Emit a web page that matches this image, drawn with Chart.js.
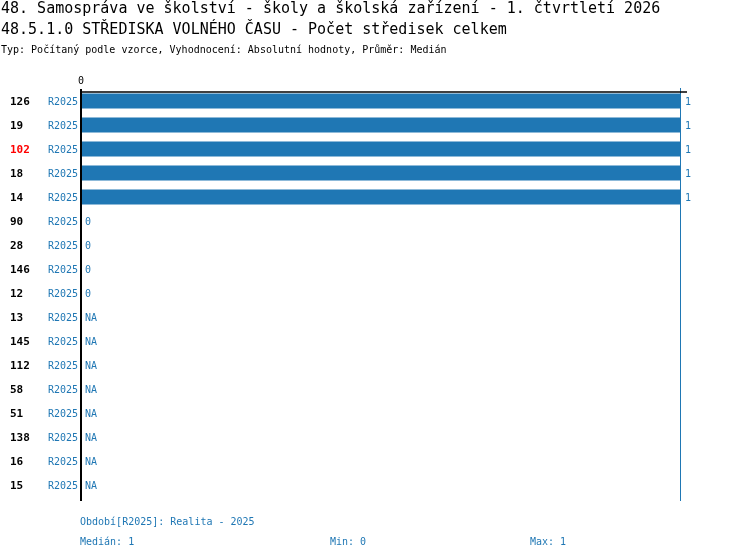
<!DOCTYPE html>
<html><head><meta charset="utf-8">
<script src="https://cdn.jsdelivr.net/npm/chart.js@4"></script>
<style>html,body{margin:0;padding:0;background:#fff;}#wrap{width:750px;height:560px;position:relative;}</style>
</head><body><div id="wrap"><canvas id="c" width="750" height="560"></canvas></div>
<script>
const titleLines = [
  "48. Samospráva ve školství - školy a školská zařízení - 1. čtvrtletí 2026",
  "48.5.1.0 STŘEDISKA VOLNÉHO ČASU - Počet středisek celkem"
];
const subtitle = "Typ: Počítaný podle vzorce, Vyhodnocení: Absolutní hodnoty, Průměr: Medián";
const categories = ["126","19","102","18","14","90","28","146","12","13","145","112","58","51","138","16","15"];
const highlighted = ["102"];
const periodLabel = "R2025";
const values = [1,1,1,1,1,0,0,0,0,null,null,null,null,null,null,null,null];
const xTicks = [0];
const footerPeriod = "Období[R2025]: Realita - 2025";
const footerStats = ["Medián: 1","Min: 0","Max: 1"];

const BLUE = "rgb(31,119,180)";
const MONO = "'DejaVu Sans Mono', 'Liberation Mono', monospace";

const overlay = {
  id: 'overlay',
  afterDraw(chart) {
    const ctx = chart.ctx;
    const x = chart.scales.x, y = chart.scales.y;
    const area = chart.chartArea;
    ctx.save();
    ctx.fillStyle = '#000';
    ctx.textBaseline = 'middle';
    ctx.textAlign = 'left';
    ctx.font = "15px " + MONO;
    ctx.fillText(titleLines[0], 1, 9);
    ctx.fillText(titleLines[1], 1, 30);
    ctx.font = "10px " + MONO;
    ctx.fillText(subtitle, 1, 50);
    ctx.font = "10px " + MONO;
    ctx.textAlign = 'center';
    xTicks.forEach(t => ctx.fillText(String(t), x.getPixelForValue(t), 81));
    ctx.strokeStyle = BLUE;
    ctx.lineWidth = 1;
    const xr = Math.round(x.getPixelForValue(1)) - 0.5;
    ctx.beginPath(); ctx.moveTo(xr, area.top - 1); ctx.lineTo(xr, area.bottom + 4); ctx.stroke();
    ctx.strokeStyle = '#000';
    ctx.lineWidth = 1.5;
    ctx.beginPath(); ctx.moveTo(area.left - 1, area.top + 3); ctx.lineTo(x.getPixelForValue(1) + 6, area.top + 3); ctx.stroke();
    ctx.lineWidth = 2;
    const x0 = x.getPixelForValue(0);
    ctx.beginPath(); ctx.moveTo(x0, area.top); ctx.lineTo(x0, area.bottom + 4); ctx.stroke();
    categories.forEach((c, i) => {
      const py = y.getPixelForValue(i) + 1;
      ctx.textAlign = 'left';
      ctx.font = "bold 11px " + MONO;
      ctx.fillStyle = highlighted.includes(c) ? 'rgb(255,0,0)' : '#000';
      ctx.fillText(c, 10, py);
      ctx.font = "10px " + MONO;
      ctx.fillStyle = BLUE;
      ctx.textAlign = 'right';
      ctx.fillText(periodLabel, 78, py);
      const v = values[i];
      ctx.textAlign = 'left';
      const txt = v === null ? 'NA' : String(v);
      const px = v === null ? x.getPixelForValue(0) : x.getPixelForValue(v);
      ctx.fillText(txt, px + 4, py);
    });
    ctx.fillStyle = BLUE;
    ctx.font = "10px " + MONO;
    ctx.textAlign = 'left';
    ctx.fillText(footerPeriod, 80, 522);
    const fx = [80, 330, 530];
    footerStats.forEach((s, i) => ctx.fillText(s, fx[i], 542));
    ctx.restore();
  }
};

new Chart(document.getElementById('c'), {
  type: 'bar',
  data: {
    labels: categories,
    datasets: [{ data: values, backgroundColor: BLUE, borderWidth: 0,
      barPercentage: 0.625, categoryPercentage: 1 }]
  },
  options: {
    indexAxis: 'y',
    responsive: false,
    animation: false,
    devicePixelRatio: 1,
    layout: { padding: { left: 81, right: 69, top: 89, bottom: 63 } },
    scales: {
      x: { min: 0, max: 1, display: false },
      y: { display: false }
    },
    plugins: { legend: { display: false }, tooltip: { enabled: false }, title: { display: false } }
  },
  plugins: [overlay]
});
</script></body></html>
